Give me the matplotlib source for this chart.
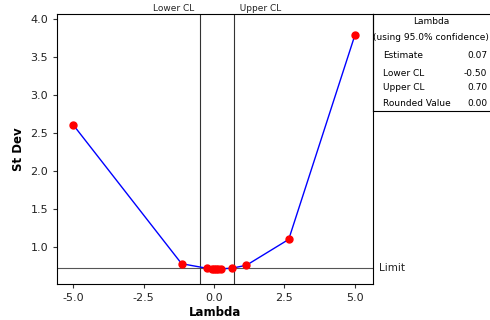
import matplotlib
matplotlib.use("Agg")
import matplotlib.pyplot as plt
from matplotlib.lines import Line2D

# Box-Cox search values
lambdas = [-5.0, -1.15, -0.25, -0.08, 0.0, 0.07, 0.15, 0.25, 0.65, 1.15, 2.65, 5.0]
stdev = [2.61, 0.78, 0.72, 0.712, 0.708, 0.706, 0.708, 0.712, 0.722, 0.76, 1.10, 3.79]
limit = 0.724
lower_cl = -0.50
upper_cl = 0.70
estimate = 0.07
rounded = 0.00

table_rows = [("Estimate", f"{estimate:.2f}"),
              ("Lower CL", f"{lower_cl:.2f}"),
              ("Upper CL", f"{upper_cl:.2f}"),
              ("Rounded Value", f"{rounded:.2f}")]
table_rows_y = [56, 74, 87, 104]

W, H = 490, 320
fig = plt.figure(figsize=(W / 100, H / 100), dpi=100)
ax = fig.add_axes([57 / W, 36 / H, 316 / W, 270 / H])

ax.plot(lambdas, stdev, color="blue", lw=1, zorder=3)
ax.plot(lambdas, stdev, "o", color="red", ms=5, zorder=4)

ax.axhline(limit, color="#555555", lw=0.8, zorder=1)
ax.axvline(lower_cl, color="#333333", lw=0.8, zorder=1)
ax.axvline(upper_cl, color="#333333", lw=0.8, zorder=1)

ax.set_xlim(-5.57, 5.64)
ax.set_ylim(0.513, 4.066)
ax.set_xticks([-5, -2.5, 0, 2.5, 5])
ax.set_xticklabels(["-5.0", "-2.5", "0.0", "2.5", "5.0"])
ax.set_yticks([1.0, 1.5, 2.0, 2.5, 3.0, 3.5, 4.0])
ax.set_yticklabels(["1.0", "1.5", "2.0", "2.5", "3.0", "3.5", "4.0"])
ax.tick_params(labelsize=8, length=3, width=0.8, color="#333333", labelcolor="#222222")
for s in ax.spines.values():
    s.set_linewidth(0.8)

ax.set_xlabel("Lambda", fontsize=8.5, fontweight="bold", labelpad=2)
ax.set_ylabel("St Dev", fontsize=8.5, fontweight="bold", labelpad=4)

ax.text(lower_cl, 1.004, "Lower CL  ", transform=ax.get_xaxis_transform(),
        ha="right", va="bottom", fontsize=6.5, color="#222222")
ax.text(upper_cl, 1.004, "  Upper CL", transform=ax.get_xaxis_transform(),
        ha="left", va="bottom", fontsize=6.5, color="#222222")
ax.text(1.02, limit, "Limit", transform=ax.get_yaxis_transform(),
        ha="left", va="center", fontsize=7.5, color="#222222")


def fy(py):
    return 1 - py / H


def fx(px):
    return px / W


# summary table to the right of the plot
for xs, ys in [((373, 490), (14, 14)), ((373, 490), (111, 111)), ((373, 373), (14, 111))]:
    fig.add_artist(Line2D([fx(x) for x in xs], [fy(y) for y in ys],
                          color="black", lw=0.8))
fig.text(fx(431), fy(22), "Lambda", ha="center", va="center", fontsize=6.5)
fig.text(fx(431), fy(38), "(using 95.0% confidence)", ha="center", va="center", fontsize=6.5)
for (name, val), py in zip(table_rows, table_rows_y):
    fig.text(fx(383), fy(py), name, ha="left", va="center", fontsize=6.5)
    fig.text(fx(487), fy(py), val, ha="right", va="center", fontsize=6.5)

fig.savefig("out.png", dpi=100)
